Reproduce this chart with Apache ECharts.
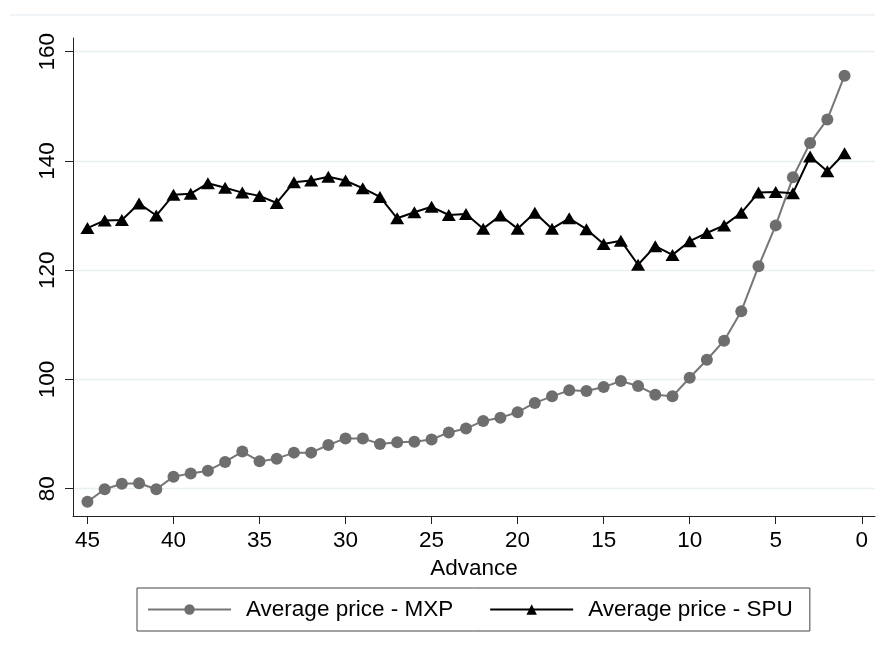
<!DOCTYPE html>
<html>
<head>
<meta charset="utf-8">
<script src="https://cdn.jsdelivr.net/npm/echarts@6/dist/echarts.min.js"></script>
<style>
  html, body { margin: 0; padding: 0; background: #ffffff; }
  #chart { width: 885px; height: 653px; }
</style>
</head>
<body>
<div id="chart"></div>
<script>
// Days in advance of departure (x axis, drawn from 45 down to 1)
const advance = [45, 44, 43, 42, 41, 40, 39, 38, 37, 36, 35, 34, 33, 32, 31, 30,
  29, 28, 27, 26, 25, 24, 23, 22, 21, 20, 19, 18, 17, 16, 15, 14, 13, 12, 11, 10,
  9, 8, 7, 6, 5, 4, 3, 2, 1];

// Average price - MXP
const priceMXP = [77.6, 79.9, 80.9, 81.0, 79.9, 82.2, 82.8, 83.3, 84.9, 86.8, 85.0, 85.5,
  86.6, 86.6, 88.0, 89.2, 89.2, 88.2, 88.5, 88.6, 89.0, 90.3, 91.0, 92.4, 93.0, 94.0,
  95.7, 96.9, 98.0, 97.9, 98.6, 99.7, 98.8, 97.2, 96.9, 100.3, 103.6, 107.1, 112.5,
  120.7, 128.2, 137.0, 143.3, 147.6, 155.6];

// Average price - SPU
const priceSPU = [127.7, 129.1, 129.2, 132.2, 130.0, 133.8, 134.0, 135.9, 135.1, 134.2,
  133.6, 132.3, 136.1, 136.4, 137.1, 136.4, 135.0, 133.4, 129.5, 130.6, 131.6, 130.1,
  130.3, 127.6, 130.0, 127.6, 130.5, 127.6, 129.5, 127.5, 124.8, 125.4, 121.0, 124.4,
  122.8, 125.3, 126.8, 128.2, 130.5, 134.2, 134.3, 134.1, 140.8, 138.1, 141.4];

// Tick labels
const xTicks = [0, 5, 10, 15, 20, 25, 30, 35, 40, 45];
const yTicks = [80, 100, 120, 140, 160];

const seriesNames = ['Average price - MXP', 'Average price - SPU'];

const FONT = '"Liberation Sans", Arial, sans-serif';
const FS = 22.5;

const chart = echarts.init(document.getElementById('chart'), null, { renderer: 'canvas' });

chart.setOption({
  backgroundColor: '#ffffff',
  animation: false,
  textStyle: { fontFamily: FONT, color: '#000000' },
  grid: { left: 73, right: 10, top: 38, bottom: 137, containLabel: false },
  graphic: [{
    type: 'line',
    shape: { x1: 10, y1: 15, x2: 875, y2: 15 },
    style: { stroke: '#eef2f4', lineWidth: 1.5 },
    silent: true
  }],
  xAxis: {
    type: 'value',
    position: 'bottom',
    inverse: true,
    min: -0.77,
    max: 45.84,
    name: 'Advance',
    nameLocation: 'middle',
    nameGap: 36,
    nameTextStyle: { fontFamily: FONT, fontSize: FS, color: '#000000' },
    axisLine: { show: true, onZero: false, lineStyle: { color: '#222222', width: 1 } },
    axisTick: { show: true, length: 8, customValues: xTicks, lineStyle: { color: '#222222', width: 1 } },
    axisLabel: { customValues: xTicks, fontFamily: FONT, fontSize: FS, color: '#000000', margin: 13 },
    splitLine: { show: false }
  },
  yAxis: {
    type: 'value',
    position: 'left',
    min: 75,
    max: 162.5,
    axisLine: { show: true, onZero: false, lineStyle: { color: '#222222', width: 1 } },
    axisTick: { show: true, length: 8, customValues: yTicks, lineStyle: { color: '#222222', width: 1 } },
    axisLabel: { customValues: yTicks, rotate: 90, fontFamily: FONT, fontSize: FS, color: '#000000', margin: 14 },
    splitLine: { show: true, lineStyle: { color: '#e8f0f2', width: 1.3 } }
  },
  legend: {
    show: true,
    left: 137,
    top: 588,
    orient: 'horizontal',
    padding: [10, 17, 10, 10],
    itemGap: 36,
    itemWidth: 83,
    itemHeight: 13,
    borderColor: '#444444',
    borderWidth: 1,
    textStyle: { fontFamily: FONT, fontSize: FS, color: '#000000', padding: [0, 0, 0, 10] },
    data: seriesNames
  },
  series: [
    {
      name: seriesNames[0],
      type: 'line',
      data: advance.map((a, i) => [a, priceMXP[i]]),
      symbol: 'circle',
      symbolSize: 12,
      itemStyle: { color: '#6e6e6e' },
      lineStyle: { color: '#767676', width: 2 },
      z: 2
    },
    {
      name: seriesNames[1],
      type: 'line',
      data: advance.map((a, i) => [a, priceSPU[i]]),
      symbol: 'triangle',
      symbolSize: [14, 12],
      itemStyle: { color: '#000000' },
      lineStyle: { color: '#000000', width: 2 },
      z: 3
    }
  ]
});
</script>
</body>
</html>
